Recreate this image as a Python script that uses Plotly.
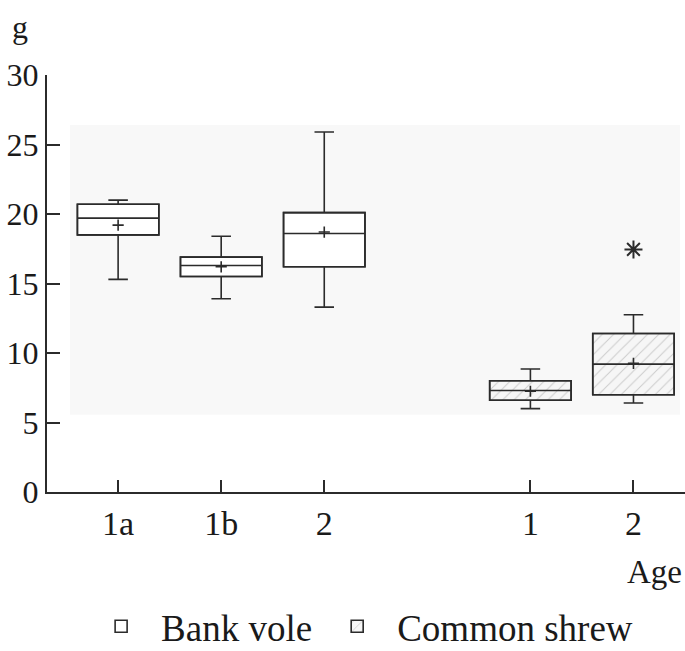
import plotly.graph_objects as go

# box statistics (body mass, g)
vole_ages = ["1a", "1b", "2"]
vole_low = [15.3, 13.9, 13.3]
vole_q1 = [18.5, 15.5, 16.2]
vole_median = [19.7, 16.3, 18.6]
vole_q3 = [20.7, 16.9, 20.1]
vole_high = [21.0, 18.4, 25.9]
vole_mean = [19.2, 16.2, 18.7]

shrew_ages = ["1", "2"]
shrew_low = [6.0, 6.4]
shrew_q1 = [6.6, 7.0]
shrew_median = [7.3, 9.2]
shrew_q3 = [8.0, 11.4]
shrew_high = [8.85, 12.75]
shrew_mean = [7.25, 9.25]

shrew_outlier_age = ["2"]
shrew_outlier = [17.45]

# slot of each age group on the x axis (gap between species)
vole_x = [1, 2, 3]
shrew_x = [5, 6]
shrew_outlier_x = [6]

INK = "#2b2b2b"
FONT = "Liberation Serif"
BOX_W = 0.79

fig = go.Figure()

# boxes as bars (q1..q3) so the hatching and legend swatches work
fig.add_trace(go.Bar(
    x=vole_x, y=[b - a for a, b in zip(vole_q1, vole_q3)], base=vole_q1,
    width=BOX_W, name="Bank vole",
    marker=dict(color="white", line=dict(color=INK, width=1.6)),
))
fig.add_trace(go.Bar(
    x=shrew_x, y=[b - a for a, b in zip(shrew_q1, shrew_q3)], base=shrew_q1,
    width=BOX_W, name="Common shrew",
    marker=dict(color="#f6f6f6", line=dict(color=INK, width=1.6),
                pattern=dict(shape="/", fgcolor="#a0a0a0", bgcolor="#f6f6f6",
                             size=8, solidity=0.12)),
))

# whiskers + median via box traces drawn on top
for xs, lo, q1, med, q3, hi in [
    (vole_x, vole_low, vole_q1, vole_median, vole_q3, vole_high),
    (shrew_x, shrew_low, shrew_q1, shrew_median, shrew_q3, shrew_high),
]:
    fig.add_trace(go.Box(
        x=xs, lowerfence=lo, q1=q1, median=med, q3=q3, upperfence=hi,
        width=BOX_W, whiskerwidth=0.24,
        fillcolor="rgba(0,0,0,0)", line=dict(color=INK, width=1.6),
        showlegend=False, hoverinfo="skip",
    ))

# means
fig.add_trace(go.Scatter(
    x=vole_x + shrew_x, y=vole_mean + shrew_mean, mode="markers",
    marker=dict(symbol="cross-thin-open", size=8, color=INK,
                line=dict(color=INK, width=1.6)),
    showlegend=False,
))
# outlier
fig.add_trace(go.Scatter(
    x=shrew_outlier_x, y=shrew_outlier, mode="markers",
    marker=dict(symbol="asterisk-open", size=15, color=INK,
                line=dict(color=INK, width=2)),
    showlegend=False,
))

fig.update_layout(
    width=685, height=651,
    margin=dict(l=47, r=0, t=75, b=159, autoexpand=False),
    paper_bgcolor="white", plot_bgcolor="white",
    barmode="overlay", boxmode="overlay",
    font=dict(family=FONT, size=32, color="#1a1a1a"),
    showlegend=True,
    legend=dict(orientation="h", x=0.49, xanchor="center", y=-0.323, yanchor="middle",
                font=dict(size=37), itemwidth=70, tracegroupgap=0),
    shapes=[dict(type="rect", xref="paper", yref="paper", x0=0.036, x1=0.992,
                 y0=0.185, y1=0.88, fillcolor="#f8f8f8", line=dict(width=0),
                 layer="below")],
    annotations=[
        dict(text="g", xref="paper", yref="paper", x=-0.042, y=1.115,
             xanchor="center", yanchor="middle", showarrow=False, font=dict(size=32)),
        dict(text="Age", xref="paper", yref="paper", x=0.998, y=-0.193,
             xanchor="right", yanchor="middle", showarrow=False, font=dict(size=33)),
    ],
)
fig.update_xaxes(
    range=[0.31, 6.5], tickvals=vole_x + shrew_x, ticktext=vole_ages + shrew_ages,
    showgrid=False, zeroline=False, showline=True, linecolor=INK, linewidth=2,
    ticks="inside", ticklen=12, tickwidth=2, tickcolor=INK, automargin=False,
    tickfont=dict(size=34),
)
fig.update_yaxes(
    range=[0, 30], dtick=5, showgrid=False, zeroline=False,
    showline=True, linecolor=INK, linewidth=2,
    ticks="inside", ticklen=13, tickwidth=2, tickcolor=INK, automargin=False,
)

# page body has a default margin that shifts the figure; drop it
fig.write_html("out.html", config={"displayModeBar": False},
               post_script="document.body.style.margin='0';document.body.style.overflow='hidden';")
